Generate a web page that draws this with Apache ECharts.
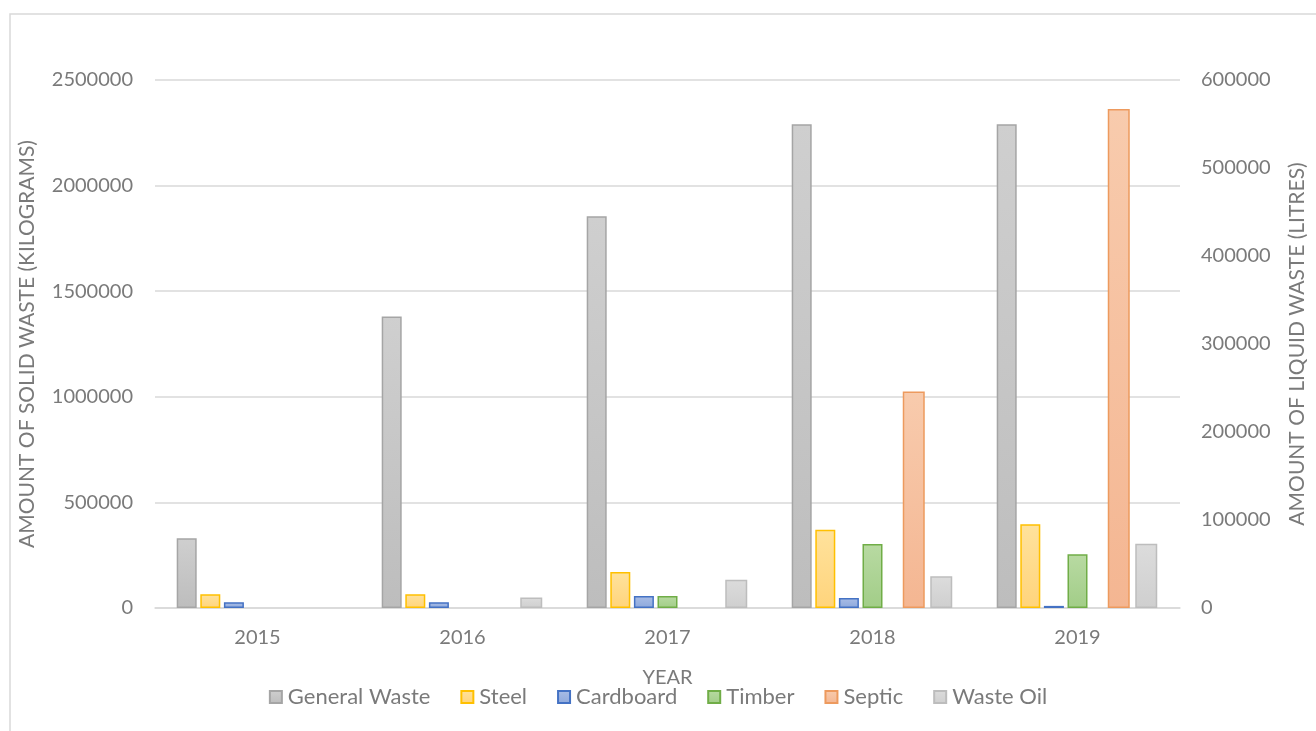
<!DOCTYPE html>
<html>
<head>
<meta charset="utf-8">
<script src="https://cdn.jsdelivr.net/npm/echarts@6/dist/echarts.min.js"></script>
<style>
html,body{margin:0;padding:0;background:#fff;}
#chart{width:1316px;height:731px;}
</style>
</head>
<body>
<div id="chart"></div>
<script>
var years = ['2015', '2016', '2017', '2018', '2019'];
var generalWaste = [330000, 1380000, 1855000, 2290000, 2290000];
var steel = [65000, 65000, 170000, 370000, 397000];
var cardboard = [27000, 27000, 57000, 47000, 10000];
var timber = [null, null, 57000, 303000, 255000];
var septic = [null, null, null, 246000, 567000];
var wasteOil = [null, 12000, 32000, 36000, 73000];
var solidTicks = [0, 500000, 1000000, 1500000, 2000000, 2500000];
var liquidTicks = [0, 100000, 200000, 300000, 400000, 500000, 600000];

var FONT = 'Lato';
var TXT = '#7a7a7a';

function grad(top, bottom) {
  return new echarts.graphic.LinearGradient(0, 0, 0, 1, [
    {offset: 0, color: top}, {offset: 1, color: bottom}
  ]);
}
function barSeries(name, data, xi, yi, top, bottom, border, width, gap) {
  return {
    name: name, type: 'bar', data: data, xAxisIndex: xi, yAxisIndex: yi,
    barWidth: width, barGap: gap,
    itemStyle: {color: grad(top, bottom), borderColor: border, borderWidth: 1.5},
    emphasis: {disabled: true}
  };
}
function placeholder(name, xi, yi, width, gap) {
  return {name: name, type: 'bar', data: [], xAxisIndex: xi, yAxisIndex: yi, barWidth: width, barGap: gap};
}

var chart = echarts.init(document.getElementById('chart'));
chart.setOption({
  animation: false,
  backgroundColor: '#fff',
  textStyle: {fontFamily: FONT},
  graphic: [{
    type: 'rect', shape: {x: 10, y: 14, width: 1330, height: 740},
    style: {fill: 'none', stroke: '#d9d9d9', lineWidth: 1.5}, silent: true, z: -10
  }],
  grid: {left: 155, right: 131, top: 80, bottom: 123, containLabel: false},
  legend: {
    data: ['General Waste', 'Steel', 'Cardboard', 'Timber', 'Septic', 'Waste Oil'],
    left: 'center', top: 681, itemWidth: 12, itemHeight: 12, itemGap: 30,
    textStyle: {color: TXT, fontSize: 22, fontFamily: FONT, padding: [0, 0, 0, 1]},
    icon: 'rect'
  },
  xAxis: [{
    type: 'category', data: years, gridIndex: 0,
    name: 'YEAR', nameLocation: 'middle', nameGap: 60,
    nameTextStyle: {color: TXT, fontSize: 20, fontFamily: FONT},
    axisLine: {lineStyle: {color: '#d9d9d9', width: 1.5}},
    axisTick: {show: false},
    axisLabel: {color: TXT, fontSize: 20, fontFamily: FONT, margin: 20}
  }, {
    type: 'category', data: years, gridIndex: 0, show: false
  }],
  yAxis: [{
    type: 'value', min: 0, max: 2500000, interval: 500000,
    name: 'AMOUNT OF SOLID WASTE (KILOGRAMS)', nameLocation: 'middle', nameGap: 117,
    nameTextStyle: {color: TXT, fontSize: 21, fontFamily: FONT},
    axisLine: {show: false}, axisTick: {show: false},
    axisLabel: {color: TXT, fontSize: 20, fontFamily: FONT, margin: 22,
      formatter: function (v) { return solidTicks.indexOf(v) >= 0 ? String(v) : ''; }},
    splitLine: {lineStyle: {color: '#d9d9d9', width: 1.5}}
  }, {
    type: 'value', min: 0, max: 600000, interval: 100000,
    name: 'AMOUNT OF LIQUID WASTE (LITRES)', nameLocation: 'middle', nameGap: 107,
    nameRotate: 90,
    nameTextStyle: {color: TXT, fontSize: 21, fontFamily: FONT},
    axisLine: {show: false}, axisTick: {show: false},
    axisLabel: {color: TXT, fontSize: 20, fontFamily: FONT, margin: 21,
      formatter: function (v) { return liquidTicks.indexOf(v) >= 0 ? String(v) : ''; }},
    splitLine: {show: false}
  }],
  series: [
    barSeries('General Waste', generalWaste, 0, 0, '#cfcfcf', '#bdbdbd', '#a5a5a5', 20, '18%'),
    barSeries('Steel', steel, 0, 0, '#ffe29c', '#ffd47c', '#ffc000', 20, '18%'),
    barSeries('Cardboard', cardboard, 0, 0, '#a9bde6', '#8ea9dc', '#4472c4', 20, '18%'),
    barSeries('Timber', timber, 0, 0, '#b8daa2', '#a2cd88', '#70ad47', 20, '18%'),
    placeholder('_p1', 0, 0, 20, '18%'),
    placeholder('_p2', 0, 0, 20, '18%'),
    placeholder('_p3', 0, 0, 20, '18%'),
    placeholder('_q1', 1, 1, 22, '25%'),
    placeholder('_q2', 1, 1, 22, '25%'),
    placeholder('_q3', 1, 1, 22, '25%'),
    placeholder('_q4', 1, 1, 22, '25%'),
    barSeries('Septic', septic, 1, 1, '#f8cbad', '#f4b692', '#ed9a5e', 22, '25%'),
    barSeries('Waste Oil', wasteOil, 1, 1, '#dcdcdc', '#cfcfcf', '#bdbdbd', 22, '25%')
  ]
});
</script>
</body>
</html>
